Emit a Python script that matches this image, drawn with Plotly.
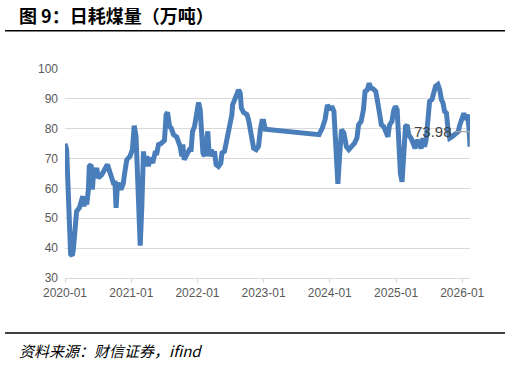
import plotly.graph_objects as go

dates = [
    "2020-01-01", "2020-01-10", "2020-02-01", "2020-02-10", "2020-02-16", "2020-02-25",
    "2020-03-05", "2020-03-20", "2020-03-28", "2020-04-08", "2020-04-15", "2020-04-21",
    "2020-04-30", "2020-05-09", "2020-05-14", "2020-05-24", "2020-05-31", "2020-06-09",
    "2020-06-18", "2020-06-24", "2020-07-03", "2020-07-22", "2020-08-22", "2020-09-06",
    "2020-09-15", "2020-09-24", "2020-10-03", "2020-10-09", "2020-10-16", "2020-10-27",
    "2020-11-05", "2020-11-18", "2020-11-24", "2020-12-07", "2020-12-25", "2021-01-07",
    "2021-01-17", "2021-01-27", "2021-02-06", "2021-02-19", "2021-02-28", "2021-03-09",
    "2021-03-18", "2021-03-27", "2021-04-05", "2021-04-15", "2021-04-29", "2021-05-12",
    "2021-05-22", "2021-05-31", "2021-06-14", "2021-06-24", "2021-07-03", "2021-07-12",
    "2021-07-20", "2021-07-31", "2021-08-09", "2021-08-22", "2021-09-09", "2021-09-27",
    "2021-10-07", "2021-10-12", "2021-10-20", "2021-10-31", "2021-11-18", "2021-11-27",
    "2021-12-05", "2021-12-16", "2021-12-29", "2022-01-07", "2022-01-16", "2022-01-22",
    "2022-01-31", "2022-02-09", "2022-02-18", "2022-02-27", "2022-03-07", "2022-03-18",
    "2022-03-27", "2022-04-05", "2022-04-14", "2022-04-27", "2022-05-10", "2022-05-16",
    "2022-05-30", "2022-06-12", "2022-06-27", "2022-07-10", "2022-07-14", "2022-07-25",
    "2022-08-07", "2022-08-16", "2022-08-25", "2022-08-31", "2022-09-12", "2022-10-01",
    "2022-10-10", "2022-10-19", "2022-10-29", "2022-11-07", "2022-11-21", "2022-12-04",
    "2022-12-14", "2022-12-23", "2023-01-01", "2023-01-10",
    "2023-11-03", "2023-11-21", "2023-12-06", "2023-12-19", "2024-01-01", "2024-01-12",
    "2024-01-24", "2024-02-02", "2024-02-15", "2024-02-24", "2024-03-06", "2024-03-19",
    "2024-04-02", "2024-04-15", "2024-04-24", "2024-05-03", "2024-05-17", "2024-05-30",
    "2024-06-08", "2024-06-22", "2024-07-05", "2024-07-14", "2024-07-26", "2024-08-06",
    "2024-08-15", "2024-08-28", "2024-09-11", "2024-09-24", "2024-10-03", "2024-10-12",
    "2024-10-25", "2024-11-04", "2024-11-17", "2024-11-26", "2024-12-09", "2024-12-18",
    "2024-12-28", "2025-01-07", "2025-01-16", "2025-01-25", "2025-02-03", "2025-02-12",
    "2025-02-22", "2025-03-03", "2025-03-12", "2025-03-25", "2025-04-03", "2025-04-16",
    "2025-04-27", "2025-05-07", "2025-05-20", "2025-05-29", "2025-06-07", "2025-06-16",
    "2025-06-26", "2025-07-05", "2025-07-18", "2025-07-27", "2025-08-07", "2025-08-20",
    "2025-08-30", "2025-09-08", "2025-09-17", "2025-09-26", "2025-10-06", "2025-10-15",
    "2025-10-24", "2025-11-06", "2025-11-21", "2025-11-30", "2025-12-10", "2025-12-19",
    "2026-01-01", "2026-01-10", "2026-01-19", "2026-01-29", "2026-02-07", "2026-02-13",
]

values = [
    75.0, 73.0, 38.0, 37.5, 39.5, 46.0,
    52.3, 53.5, 56.0, 57.4, 54.0, 57.0,
    54.6, 59.6, 67.4, 68.0, 59.6, 66.9,
    64.0, 66.9, 63.5, 64.6, 68.0, 65.2,
    64.0, 61.8, 61.8, 53.5, 60.7, 61.8,
    59.6, 61.8, 64.6, 69.6, 70.8, 73.0,
    81.0, 77.5, 61.8, 40.8, 54.0, 72.4,
    67.4, 70.8, 67.4, 70.2, 68.5, 71.9,
    71.9, 74.7, 75.0, 75.8, 76.1, 84.7,
    85.5, 80.8, 80.2, 78.0, 77.2, 74.1,
    70.8, 74.7, 69.6, 71.0, 73.0, 73.0,
    79.1, 80.8, 86.9, 88.8, 86.4, 80.8,
    71.9, 70.8, 74.1, 79.1, 70.8, 73.0,
    70.8, 72.4, 68.0, 67.4, 68.5, 71.9,
    72.4, 76.3, 80.2, 84.7, 88.0, 89.7,
    90.8, 93.0, 92.0, 87.0, 85.5, 84.7,
    83.0, 80.2, 76.9, 73.5, 73.0, 74.1,
    79.7, 82.5, 82.5, 79.8,
    78.0, 80.2, 83.0, 88.0, 86.4, 87.5,
    85.8, 75.0, 61.5, 70.5, 79.7, 78.6,
    74.0, 73.0, 73.5, 74.0, 75.2, 76.9,
    81.3, 82.4, 86.4, 92.5, 93.0, 95.2,
    93.6, 93.3, 92.5, 88.0, 85.2, 81.3,
    80.7, 79.0, 77.3, 81.3, 82.4, 85.8,
    87.5, 86.4, 74.0, 65.0, 62.2, 72.7,
    80.7, 81.3, 77.9, 76.8, 75.6, 73.4,
    76.3, 75.2, 73.4, 76.8, 74.0, 76.3,
    81.9, 89.2, 89.8, 91.4, 94.2, 94.8,
    93.0, 89.8, 88.6, 85.8, 85.2, 79.6,
    76.8, 77.3, 77.9, 78.5, 79.0, 81.3,
    84.1, 85.2, 83.0, 84.7, 80.7, 73.98,
]

y_ticks = [30, 40, 50, 60, 70, 80, 90, 100]
title_text = "图 9：日耗煤量（万吨）"
source_text = "<i>资料来源：财信证券，ifind</i>"

fig = go.Figure()
fig.add_trace(go.Scatter(
    x=dates, y=values, mode="lines",
    line=dict(color="#4a7ebb", width=5),
    hoverinfo="skip", showlegend=False,
))

fig.update_layout(
    width=511, height=368,
    margin=dict(l=65, r=41, t=69, b=90),
    paper_bgcolor="white", plot_bgcolor="white",
    font=dict(family="Liberation Sans, Arial, sans-serif", size=12, color="#595959"),
    xaxis=dict(
        type="date",
        range=[dates[0], dates[-1]],
        tick0="2020-01-01", dtick="M12", tickformat="%Y-%m",
        showgrid=False, showline=True, linecolor="#d9d9d9", linewidth=1,
        ticks="outside", ticklen=4, tickcolor="#d9d9d9",
        tickfont=dict(size=12, color="#595959"),
        zeroline=False,
    ),
    yaxis=dict(
        range=[y_ticks[0], y_ticks[-1]],
        tickvals=y_ticks,
        showgrid=True, gridcolor="#d9d9d9", gridwidth=1,
        zeroline=False, showline=False,
        tickfont=dict(size=12, color="#595959"),
        ticks="", ticklabelstandoff=6,
    ),
    shapes=[
        dict(type="line", xref="paper", yref="paper",
             x0=-0.148, x1=1.0864, y0=1.1833, y1=1.1833,
             line=dict(color="black", width=1.5)),
        dict(type="line", xref="paper", yref="paper",
             x0=-0.148, x1=1.0864, y0=-0.263, y1=-0.263,
             line=dict(color="black", width=1.5)),
        dict(type="path", xref="x", yref="y",
             xsizemode="pixel", ysizemode="pixel",
             xanchor=dates[-1], yanchor=values[-1],
             path="M0,0 L0,15 L-15,15",
             line=dict(color="#a6a6a6", width=1.2), layer="above"),
    ],
    annotations=[
        dict(text="<b>" + title_text + "</b>", xref="paper", yref="paper",
             x=-0.1185, y=1.258, xanchor="left", yanchor="middle",
             showarrow=False,
             font=dict(family="Noto Sans CJK SC", size=18, color="black")),
        dict(text=source_text, xref="paper", yref="paper",
             x=-0.1185, y=-0.3445, xanchor="left", yanchor="middle",
             showarrow=False,
             font=dict(family="Noto Sans CJK SC", size=15, color="black")),
        dict(text=f"{values[-1]:.2f}", x=dates[-1], y=values[-1],
             xref="x", yref="y", showarrow=False,
             xanchor="center", yanchor="middle", xshift=-37, yshift=15,
             font=dict(family="Liberation Sans, Arial, sans-serif", size=15, color="#404040")),
    ],
)

fig.write_html("out.html")
